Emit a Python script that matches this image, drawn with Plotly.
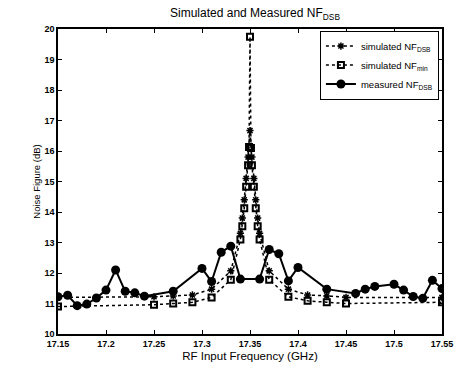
import plotly.graph_objects as go

# measured NF_DSB
meas_f = [17.15, 17.16, 17.17, 17.18, 17.19, 17.20, 17.21, 17.22, 17.23, 17.24, 17.27,
          17.30, 17.31, 17.32, 17.33, 17.34, 17.36, 17.37, 17.38, 17.39, 17.40, 17.43,
          17.46, 17.47, 17.48, 17.50, 17.51, 17.52, 17.53, 17.54, 17.55]
meas_v = [11.22, 11.27, 10.93, 10.98, 11.18, 11.44, 12.10, 11.40, 11.35, 11.24, 11.40,
          12.15, 11.72, 12.68, 12.88, 11.80, 11.80, 12.77, 12.63, 11.74, 12.18, 11.47,
          11.33, 11.47, 11.56, 11.63, 11.44, 11.23, 11.17, 11.76, 11.49]

# simulated NF_DSB
sdsb_f = [17.15, 17.25, 17.27, 17.29, 17.31, 17.33, 17.340, 17.342, 17.344, 17.346, 17.348,
          17.350, 17.352, 17.354, 17.356, 17.358, 17.360, 17.37, 17.39, 17.41, 17.43, 17.45, 17.55]
sdsb_v = [11.20, 11.22, 11.25, 11.28, 11.47, 12.07, 13.30, 13.80, 14.40, 15.10, 15.80,
          16.67, 15.80, 15.10, 14.40, 13.80, 13.30, 12.07, 11.47, 11.28, 11.25, 11.20, 11.20]

# simulated NF_min
smin_f = [17.15, 17.25, 17.27, 17.29, 17.31, 17.33, 17.340, 17.342, 17.344, 17.346, 17.348,
          17.349, 17.350, 17.351, 17.352, 17.354, 17.356, 17.358, 17.360, 17.37, 17.39, 17.41,
          17.43, 17.45, 17.55]
smin_v = [10.90, 10.96, 11.00, 11.04, 11.20, 11.78, 13.10, 13.53, 14.12, 14.83, 15.53,
          16.13, 19.75, 16.10, 15.53, 14.83, 14.12, 13.53, 13.10, 11.78, 11.22, 11.09,
          11.04, 11.00, 11.04]

x_ticks = [17.15, 17.2, 17.25, 17.3, 17.35, 17.4, 17.45, 17.5, 17.55]
x_labels = ["17.15", "17.2", "17.25", "17.3", "17.35", "17.4", "17.45", "17.5", "17.55"]
y_ticks = list(range(10, 21))

FONT = "Liberation Sans, Arial, sans-serif"

fig = go.Figure()
fig.add_trace(go.Scatter(
    x=sdsb_f, y=sdsb_v, mode="lines+markers", name="simulated NF<sub>DSB</sub>",
    line=dict(color="black", width=1.5, dash="dot"),
    marker=dict(symbol="asterisk-open", size=6, color="black", line=dict(color="black", width=1.5)),
))
fig.add_trace(go.Scatter(
    x=smin_f, y=smin_v, mode="lines+markers", name="simulated NF<sub>min</sub>",
    line=dict(color="black", width=1.5, dash="dot"),
    marker=dict(symbol="square-open", size=6, color="black", line=dict(color="black", width=2)),
))
fig.add_trace(go.Scatter(
    x=meas_f, y=meas_v, mode="lines+markers", name="measured NF<sub>DSB</sub>",
    line=dict(color="black", width=2),
    marker=dict(symbol="circle", size=9, color="black"),
))

fig.update_layout(
    width=462, height=370,
    margin=dict(l=58, r=9, t=29, b=33),
    paper_bgcolor="white", plot_bgcolor="white",
    font=dict(family=FONT, color="black"),
    title=dict(text="Simulated and Measured NF<sub>DSB</sub>", x=0.552, xanchor="center",
               y=0.965, yanchor="middle", font=dict(size=12, family=FONT)),
    showlegend=True,
    legend=dict(x=0.992, xanchor="right", y=0.995, yanchor="top", bgcolor="white",
                bordercolor="black", borderwidth=1, font=dict(size=9.5, family=FONT),
                tracegroupgap=0, itemwidth=30),
    xaxis=dict(range=[17.15, 17.55], tickvals=x_ticks, ticktext=x_labels,
               ticks="inside", ticklen=4, tickcolor="black", mirror="ticks",
               showline=True, linecolor="black", linewidth=1.5, showgrid=False, zeroline=False,
               ticklabeloverflow="allow",
               tickfont=dict(size=9, family=FONT, weight="bold"),
               title=dict(text="RF Input Frequency (GHz)", font=dict(size=11.5, family=FONT), standoff=4)),
    yaxis=dict(range=[10, 20], tickvals=y_ticks,
               ticks="inside", ticklen=4, tickcolor="black", mirror="ticks",
               showline=True, linecolor="black", linewidth=1.5, showgrid=False, zeroline=False,
               tickfont=dict(size=9, family=FONT, weight="bold"),
               title=dict(text="Noise Figure (dB)", font=dict(size=9.5, family=FONT), standoff=2)),
)

fig.write_html("out.html")
